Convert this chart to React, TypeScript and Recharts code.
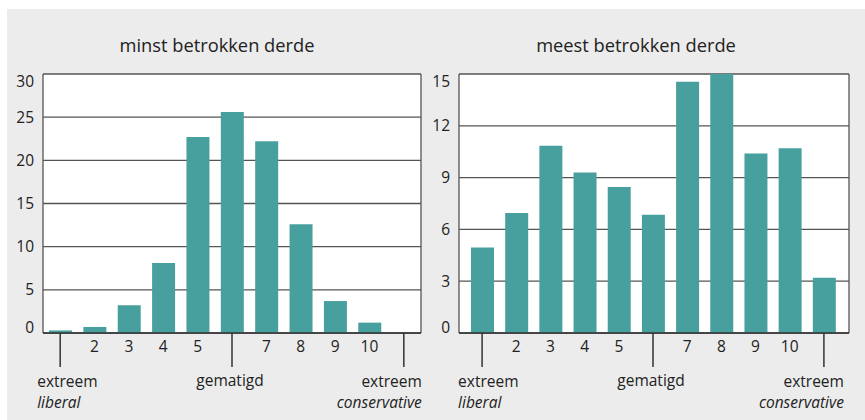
import { BarChart, Bar, XAxis, YAxis, CartesianGrid, Customized } from "recharts";

// scale positions 1..11 (1 = extreem liberal, 6 = gematigd, 11 = extreem conservative)
const categories = [1, 2, 3, 4, 5, 6, 7, 8, 9, 10, 11];
const tickLabels = ["", "2", "3", "4", "5", "", "7", "8", "9", "10", ""];
const minstValues = [0.3, 0.7, 3.2, 8.1, 22.7, 25.6, 22.2, 12.6, 3.7, 1.2, 0];
const meestValues = [4.95, 6.95, 10.85, 9.3, 8.45, 6.85, 14.55, 15, 10.4, 10.7, 3.2];
const minstTicks = [0, 5, 10, 15, 20, 25, 30];
const meestTicks = [0, 3, 6, 9, 12, 15];

const FONT = "'Open Sans', 'Noto Sans', sans-serif";
const TEXT = "#222";
const TEAL = "#48a09e";

const minstData = categories.map((c, i) => ({ cat: c, value: minstValues[i] }));
const meestData = categories.map((c, i) => ({ cat: c, value: meestValues[i] }));

function YTick({ x, y, payload, max }: any) {
  const v = payload.value;
  const shift = v === max ? 7.5 : v === 0 ? -5.5 : 0;
  return (
    <text x={x} y={y + shift} dy="0.36em" textAnchor="end" fontFamily={FONT} fontSize={15.5} fill={TEXT}>
      {v}
    </text>
  );
}

function XTick({ x, y, payload, leftOff, rightOff }: any) {
  const cat = payload.value;
  const common = { fontFamily: FONT, fontSize: 15.5, fill: TEXT };
  if (cat === 1 || cat === 6 || cat === 11) {
    return (
      <g>
        <line x1={x} x2={x} y1={y} y2={y + 34} stroke="#333" strokeWidth={1.5} />
        {cat === 1 && (
          <>
            <text x={x + leftOff} y={y + 54} textAnchor="start" {...common}>extreem</text>
            <text x={x + leftOff} y={y + 75} textAnchor="start" fontStyle="italic" {...common}>liberal</text>
          </>
        )}
        {cat === 6 && (
          <text x={x - 2} y={y + 53} textAnchor="middle" {...common}>gematigd</text>
        )}
        {cat === 11 && (
          <>
            <text x={x + rightOff} y={y + 54} textAnchor="end" {...common}>extreem</text>
            <text x={x + rightOff} y={y + 75} textAnchor="end" fontStyle="italic" {...common}>conservative</text>
          </>
        )}
      </g>
    );
  }
  return (
    <text x={x} y={y + 19} textAnchor="middle" {...common}>
      {tickLabels[cat - 1]}
    </text>
  );
}

function Panel({ data, ticks, title, titleX, width, yWidth, marginRight, padding, leftOff, rightOff }: any) {
  const max = ticks[ticks.length - 1];
  return (
    <BarChart
      width={width}
      height={411}
      data={data}
      margin={{ top: 65, right: marginRight, bottom: 0, left: 0 }}
    >
      <CartesianGrid
        fill="#fff"
        stroke="#555"
        strokeWidth={1.3}
        verticalCoordinatesGenerator={({ offset }: any) => [offset.left, offset.left + offset.width]}
      />
      <XAxis
        dataKey="cat"
        interval={0}
        height={87}
        padding={padding}
        tickSize={0}
        tickMargin={0}
        tickLine={false}
        axisLine={{ stroke: "#333", strokeWidth: 1.5 }}
        tick={(p: any) => <XTick {...p} leftOff={leftOff} rightOff={rightOff} />}
      />
      <YAxis
        domain={[0, max]}
        ticks={ticks}
        width={yWidth}
        tickSize={0}
        tickMargin={9}
        tickLine={false}
        axisLine={false}
        tick={(p: any) => <YTick {...p} max={max} />}
      />
      <Bar dataKey="value" fill={TEAL} barSize={23} isAnimationActive={false} />
      <Customized
        component={() => (
          <text x={titleX} y={43} textAnchor="middle" fontFamily={FONT} fontSize={18.3} fill={TEXT}>
            {title}
          </text>
        )}
      />
    </BarChart>
  );
}

export default function App() {
  return (
    <div
      style={{
        position: "absolute",
        left: 7,
        top: 9,
        width: 858,
        height: 411,
        background: "#ececec",
      }}
    >
      <div style={{ position: "absolute", left: 0, top: 0 }}>
        <Panel
          data={minstData}
          ticks={minstTicks}
          title="minst betrokken derde"
          titleX={210}
          width={423}
          yWidth={36}
          marginRight={9}
          padding={{ left: 0, right: 0 }}
          leftOff={-23}
          rightOff={18}
        />
      </div>
      <div style={{ position: "absolute", left: 423, top: 0 }}>
        <Panel
          data={meestData}
          ticks={meestTicks}
          title="meest betrokken derde"
          titleX={206}
          width={435}
          yWidth={29}
          marginRight={16}
          padding={{ left: 6, right: 8 }}
          leftOff={-24}
          rightOff={20}
        />
      </div>
    </div>
  );
}
